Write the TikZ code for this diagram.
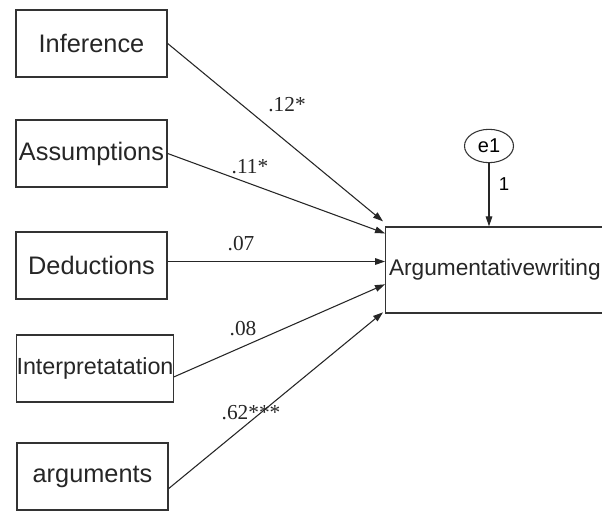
\documentclass[tikz,border=0pt]{standalone}
\usepackage{fontspec}
\setmainfont{Liberation Serif}
\setsansfont{Liberation Sans}
\usetikzlibrary{shapes.geometric,arrows.meta,calc}
\tikzset{
  var/.style={draw=black!80, line width=1pt, inner sep=0pt, minimum width=113.25pt, minimum height=50.25pt,
    font=\sffamily\fontsize{19}{21}\selectfont, text=black!85},
  path/.style={draw=black!85, line width=0.8pt, -{Triangle[length=7.5pt,width=5pt]}},
  coef/.style={font=\fontsize{16}{18}\selectfont, inner sep=0pt, text=black!85},
  err/.style={ellipse, draw=black!80, line width=0.8pt, inner sep=0pt, minimum width=36.75pt, minimum height=25pt,
    font=\sffamily\fontsize{15}{17}\selectfont}
}
\begin{document}
\begin{tikzpicture}[x=0.75pt,y=-0.75pt]
\clip (0,0) rectangle (602,510);
\fill[white] (0,0) rectangle (602,510);
\node[var] (inf) at (91.5,43.5) {Inference};
\node[var] (ass) at (91.5,153.5) {Assumptions};
\node[var] (ded) at (91.5,265.5) {Deductions};
\node[var, minimum width=114pt, font=\sffamily\fontsize{17.5}{20}\selectfont] (int) at (95,368.5) {Interpretatation};
\node[var] (arg) at (92.5,476.5) {arguments};
\node[var, anchor=west, minimum height=64.5pt, text width=180pt, align=left, inner xsep=2.5pt,
  font=\sffamily\fontsize{17}{20}\selectfont] (aw) at (385,270) {Argumentativewriting};
\node[err] (e1) at (489,146) {e1};
\coordinate (t1) at ($(aw.north west)+(-2,-5)$);
\coordinate (t2) at ($(aw.north west)+(0,7)$);
\coordinate (t3) at (aw.west |- ded.3);
\coordinate (t4) at ($(aw.north west)+(0,58)$);
\coordinate (t5) at ($(aw.north west)+(-2,86)$);
\draw[path] (inf.east) -- (t1);
\draw[path] (ass.east) -- (t2);
\draw[path] (ded.3) -- (t3);
\draw[path] (int.-6) -- (t4);
\draw[path] (arg.-9) -- (t5);
\draw[path] (e1.south) -- (e1.south |- aw.north);
\node[coef] (c1) at (287,105) {.12*};
\node[coef] (c2) at (250,167) {.11*};
\node[coef] (c3) at (241,244) {.07};
\node[coef] (c4) at (243,329) {.08};
\node[coef] (c5) at (251,413) {.62***};
\node[font=\sffamily\fontsize{14}{16}\selectfont, inner sep=0pt] (one) at (504,184) {1};
\end{tikzpicture}
\end{document}
